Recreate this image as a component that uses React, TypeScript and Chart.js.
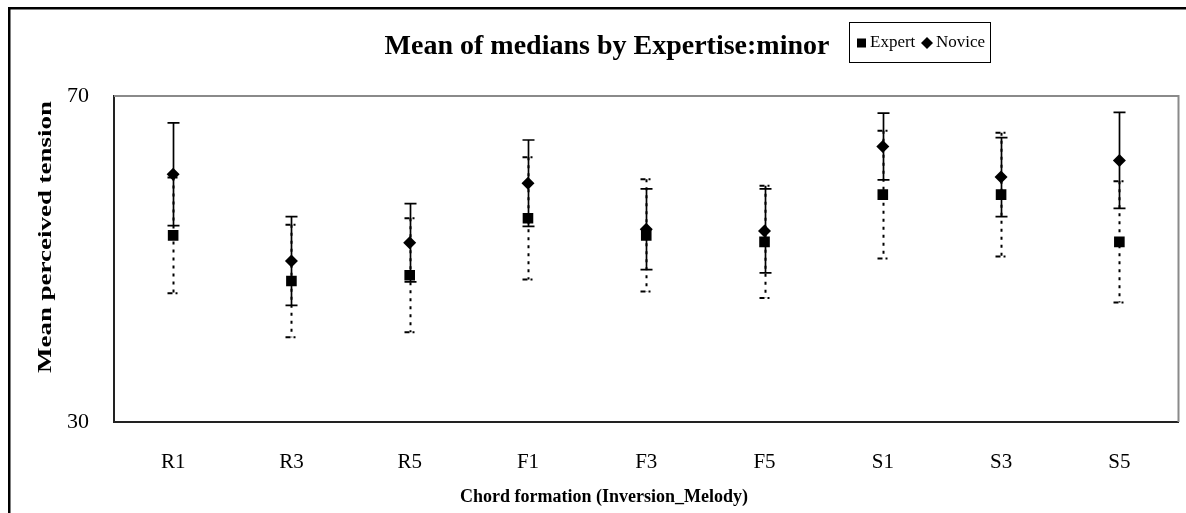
import React, { useEffect, useRef } from "react";
import { Chart, registerables } from "chart.js";

Chart.register(...registerables);

const categories = ["R1", "R3", "R5", "F1", "F3", "F5", "S1", "S3", "S5"];
const expertMeans = [52.9, 47.3, 48.0, 55.0, 52.9, 52.1, 57.9, 57.9, 52.1];
const expertErrors = [7.1, 6.9, 7.0, 7.5, 6.9, 6.9, 7.85, 7.6, 7.45];
const noviceMeans = [60.4, 49.75, 52.0, 59.3, 53.65, 53.45, 63.8, 60.05, 62.1];
const noviceErrors = [6.3, 5.45, 4.8, 5.3, 4.95, 5.15, 4.1, 4.85, 5.9];
const yTickValues = [30, 70];

const titleText = "Mean of medians by Expertise:minor";
const yTitle = "Mean perceived tension";
const xTitle = "Chord formation (Inversion_Melody)";

const W = 1186;
const H = 513;
const SERIF = "'Liberation Serif', 'Times New Roman', serif";

const errorBarPlugin = {
  id: "errorBars",
  beforeDatasetsDraw(chart: any) {
    const ctx = chart.ctx;
    const xs = chart.scales.x;
    const ys = chart.scales.y;
    const series = [
      { means: expertMeans, errs: expertErrors, dash: [3, 5], width: 2, capDash: [5, 3, 2, 3] },
      { means: noviceMeans, errs: noviceErrors, dash: [], width: 1.7, capDash: [] },
    ];
    ctx.save();
    ctx.strokeStyle = "#000";
    series.forEach((s) => {
      s.means.forEach((m, i) => {
        const x = Math.round(xs.getPixelForValue(i)) + 0.5;
        const yt = ys.getPixelForValue(m + s.errs[i]);
        const yb = ys.getPixelForValue(m - s.errs[i]);
        ctx.lineWidth = s.width;
        ctx.setLineDash(s.dash);
        ctx.beginPath();
        ctx.moveTo(x, yt);
        ctx.lineTo(x, yb);
        ctx.stroke();
        ctx.setLineDash(s.capDash);
        ctx.beginPath();
        ctx.moveTo(x - 6, yt);
        ctx.lineTo(x + 6, yt);
        ctx.moveTo(x - 6, yb);
        ctx.lineTo(x + 6, yb);
        ctx.stroke();
      });
    });
    ctx.restore();
  },
};

const decorPlugin = {
  id: "decor",
  beforeDraw(chart: any) {
    const ctx = chart.ctx;
    ctx.save();
    ctx.fillStyle = "#fff";
    ctx.fillRect(0, 0, W, H);
    ctx.fillStyle = "#000";
    ctx.fillRect(8, 7, W - 8, 2.5);
    ctx.fillRect(8, 7, 2.5, H - 7);
    ctx.restore();
  },
  afterDraw(chart: any) {
    const ctx = chart.ctx;
    const a = chart.chartArea;
    ctx.save();
    // gray plot-area border (top & right)
    ctx.strokeStyle = "#8a8a8a";
    ctx.lineWidth = 2;
    ctx.beginPath();
    ctx.moveTo(a.left, a.top);
    ctx.lineTo(a.right, a.top);
    ctx.lineTo(a.right, a.bottom);
    ctx.stroke();

    ctx.fillStyle = "#000";
    // title
    ctx.font = `bold 28px ${SERIF}`;
    ctx.textAlign = "center";
    ctx.textBaseline = "middle";
    ctx.fillText(titleText, 607, 47);

    // legend
    const bx = 849, by = 22, bw = 141, bh = 40;
    ctx.strokeStyle = "#000";
    ctx.lineWidth = 1;
    ctx.strokeRect(bx + 0.5, by + 0.5, bw, bh);
    ctx.font = `17px ${SERIF}`;
    ctx.textAlign = "left";
    const ly = by + bh / 2 + 1;
    const ds = chart.data.datasets;
    ctx.fillRect(bx + 8, ly - 4.5, 9, 9);
    ctx.fillText(ds[0].label, bx + 21, ly);
    const dx = bx + 78;
    ctx.beginPath();
    ctx.moveTo(dx, ly - 6);
    ctx.lineTo(dx + 6, ly);
    ctx.lineTo(dx, ly + 6);
    ctx.lineTo(dx - 6, ly);
    ctx.closePath();
    ctx.fill();
    ctx.fillText(ds[1].label, dx + 9, ly);

    // axis titles
    ctx.font = `bold 18px ${SERIF}`;
    ctx.textAlign = "center";
    ctx.fillText(xTitle, 604, 497);
    ctx.translate(46, 237);
    ctx.rotate(-Math.PI / 2);
    ctx.font = `bold 19px ${SERIF}`;
    const tw = ctx.measureText(yTitle).width;
    ctx.scale(272 / tw, 1);
    ctx.fillText(yTitle, 0, 0);
    ctx.restore();
  },
};

export default function App() {
  const ref = useRef<HTMLCanvasElement | null>(null);
  useEffect(() => {
    if (!ref.current) return;
    const chart = new Chart(ref.current, {
      type: "line",
      data: {
        labels: categories,
        datasets: [
          {
            label: "Expert",
            data: expertMeans,
            showLine: false,
            pointStyle: "rect",
            pointRadius: 7.5,
            pointHoverRadius: 7.5,
            backgroundColor: "#000",
            borderColor: "#000",
            borderWidth: 0,
          },
          {
            label: "Novice",
            data: noviceMeans,
            showLine: false,
            pointStyle: "rectRot",
            pointRadius: 6.5,
            pointHoverRadius: 6.5,
            backgroundColor: "#000",
            borderColor: "#000",
            borderWidth: 0,
          },
        ],
      },
      options: {
        responsive: false,
        animation: false,
        events: [],
        layout: { padding: { left: 0, top: 96, right: 4, bottom: 0 } },
        plugins: {
          legend: { display: false },
          title: { display: false },
          tooltip: { enabled: false },
        },
        scales: {
          x: {
            type: "category",
            offset: true,
            grid: { display: false },
            border: { display: true, color: "#222", width: 2 },
            ticks: {
              color: "#000",
              font: { family: SERIF, size: 21 },
              padding: 20,
              maxRotation: 0,
              autoSkip: false,
            },
            afterFit: (s: any) => {
              s.height = 91;
            },
          },
          y: {
            min: 30,
            max: 70,
            grid: { display: false },
            border: { display: true, color: "#222", width: 2 },
            ticks: {
              color: "#000",
              font: { family: SERIF, size: 22 },
              padding: 17,
              stepSize: 40,
            },
            afterBuildTicks: (s: any) => {
              s.ticks = yTickValues.map((v) => ({ value: v }));
            },
            afterFit: (s: any) => {
              s.width = 114;
            },
          },
        },
      },
      plugins: [errorBarPlugin, decorPlugin],
    } as any);
    return () => chart.destroy();
  }, []);
  return (
    <canvas
      ref={ref}
      width={W}
      height={H}
      style={{ position: "absolute", left: 0, top: 0, display: "block" }}
    />
  );
}
